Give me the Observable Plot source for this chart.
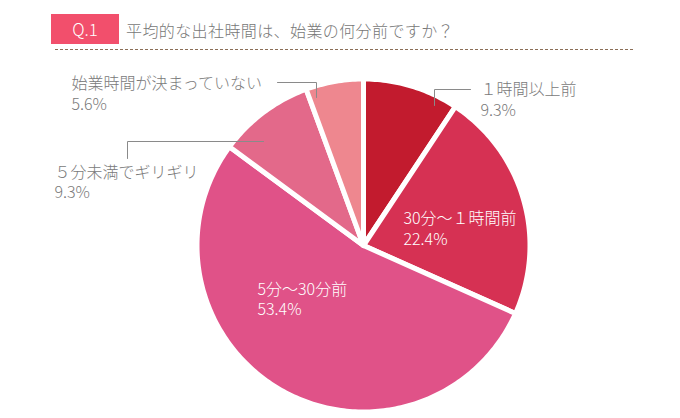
<!DOCTYPE html>
<html><head><meta charset="utf-8">
<script src="https://cdn.jsdelivr.net/npm/d3@7"></script>
<script src="https://cdn.jsdelivr.net/npm/@observablehq/plot@0.6"></script>
<style>
body{margin:0;background:#fff;font-family:"Noto Sans CJK JP","Noto Sans",sans-serif;}
#header{position:relative;width:680px;height:58px;}
#q{position:absolute;left:51px;top:14px;width:68px;height:30px;background:#f24f6c;color:#fff;font-size:17px;font-weight:300;line-height:30px;text-align:center;}
#title{position:absolute;left:126px;top:19px;font-size:16px;line-height:22px;letter-spacing:0.4px;color:#777;font-weight:300;white-space:nowrap;}
#rule{position:absolute;left:55px;top:49px;width:580px;height:1px;background:repeating-linear-gradient(to right,#8b6e57 0 3px,transparent 3px 5px);}
#chart svg{display:block;}
</style></head><body>
<div id="header">
  <div id="q">Q.1</div>
  <div id="title">平均的な出社時間は、始業の何分前ですか？</div>
  <div id="rule"></div>
</div>
<div id="chart"></div>
<script>
const categories = ["１時間以上前", "30分～１時間前", "5分～30分前", "５分未満でギリギリ", "始業時間が決まっていない"];
const values = [9.3, 22.4, 53.4, 9.3, 5.6];
const percentLabels = ["9.3%", "22.4%", "53.4%", "9.3%", "5.6%"];
const colors = ["#c21b2e", "#d63153", "#e05288", "#e3698a", "#ee878f"];

// layout (pixels relative to pie centre, y up)
const W = 680, H = 360, CX = 363, CY = 187, R = 164, LINE = 10.25;
const labelLayout = [
  {x: 117, y: 145, fill: "#7a7a7a", leader: [[71,140],[71,156],[107,156]]},
  {x: 40, y: 16, fill: "#ffffff", leader: null},
  {x: -106, y: -54.5, fill: "#ffffff", leader: null},
  {x: -309, y: 62.5, fill: "#7a7a7a", leader: [[-236,87],[-236,104],[-100,104]]},
  {x: -292, y: 151, fill: "#7a7a7a", leader: [[-86,163],[-47,163],[-47,148]]}
];

const Rr = R + 2.5;
const arcs = d3.pie().sort(null).value(d => d)(values);
const marks = [];
arcs.forEach((p, i) => {
  const pts = [{x: 0, y: 0}];
  const n = Math.max(2, Math.ceil((p.endAngle - p.startAngle) * 180 / Math.PI));
  for (let j = 0; j <= n; j++) {
    const a = p.startAngle + (p.endAngle - p.startAngle) * j / n;
    pts.push({x: Rr * Math.sin(a), y: Rr * Math.cos(a)});
  }
  pts.push({x: 0, y: 0});
  marks.push(Plot.line(pts, {x: "x", y: "y", fill: colors[i], stroke: "#ffffff", strokeWidth: 5, strokeLinejoin: "round", curve: "linear"}));
});
labelLayout.forEach((L) => {
  if (L.leader) marks.push(Plot.line(L.leader.map(([x, y]) => ({x, y})), {x: "x", y: "y", stroke: "#8a8a8a", strokeWidth: 1}));
});
const textOpts = {x: "x", y: "y", text: "t", textAnchor: "start", lineAnchor: "middle",
  fontSize: 16, fontWeight: 300, fontFamily: "'Noto Sans CJK JP', 'Noto Sans', sans-serif"};
categories.forEach((c, i) => {
  const L = labelLayout[i];
  marks.push(Plot.text([{x: L.x, y: L.y + LINE, t: c}], {...textOpts, fill: L.fill}));
  marks.push(Plot.text([{x: L.x, y: L.y - LINE, t: percentLabels[i]}], {...textOpts, fill: L.fill}));
});

const chart = Plot.plot({
  width: W, height: H,
  marginTop: 0, marginRight: 0, marginBottom: 0, marginLeft: 0,
  x: {domain: [-CX, W - CX], axis: null},
  y: {domain: [-(H - CY), CY], axis: null},
  style: {background: "#fff", fontFamily: "'Noto Sans CJK JP', sans-serif"},
  marks
});
document.getElementById("chart").appendChild(chart);
</script>
</body></html>
